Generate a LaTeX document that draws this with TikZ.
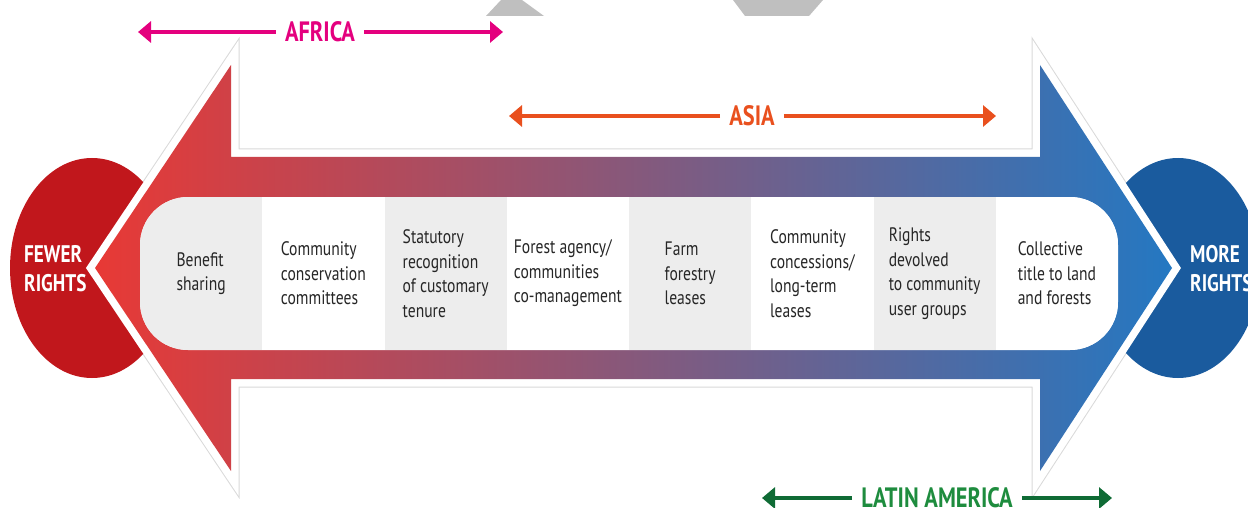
\documentclass[tikz,border=0pt]{standalone}
\usepackage{fontspec}
\setmainfont{PT Sans}
\newfontfamily\narrowsans{PT Sans}[FakeStretch=0.8]
\usetikzlibrary{arrows.meta,shapes.geometric}

\definecolor{fewerred}{RGB}{193,23,28}
\definecolor{moreblue}{RGB}{26,91,158}
\definecolor{africapink}{RGB}{228,0,126}
\definecolor{asiaorange}{RGB}{233,80,30}
\definecolor{latingreen}{RGB}{15,107,53}
\definecolor{latintext}{RGB}{30,140,62}
\definecolor{panelgray}{RGB}{237,237,237}
\definecolor{arrowred}{RGB}{232,57,53}
\definecolor{arrowmauve}{RGB}{158,94,122}
\definecolor{arrowblue}{RGB}{36,120,194}

%% outline of the double arrow
\newcommand{\arrowshape}{(95,268) -- (231,65) -- (231,157) -- (1040,157)
  -- (1040,65) -- (1172,268) -- (1040,471) -- (1040,379) -- (231,379)
  -- (231,471) -- cycle}

\begin{document}
\begin{tikzpicture}
[x=1pt,y=-1pt,
  sidedecorate/.style={shape=ellipse,minimum width=164pt,minimum height=220pt,inner sep=0pt},%
  sidetext/.style={anchor=west,align=left,inner sep=0pt,text=white,
    font=\narrowsans\bfseries\fontsize{24}{29}\selectfont},%
  coldecorate/.style={minimum width=122.25pt,minimum height=153pt,inner sep=0pt,
    align=left,text=black!85,font=\narrowsans\fontsize{19.5}{24.5}\selectfont},%
  regiondecorate/.style={inner xsep=9pt,inner ysep=0pt,
    font=\narrowsans\bfseries\fontsize{28}{30}\selectfont},%
  linedecorate/.style={line width=4pt,-{Triangle[length=13pt,width=21pt]}}]
\useasboundingbox (0,0) rectangle (1248,508);
%% grey shapes cut at the top
\fill[gray!50] (486,16) -- (501,0) -- (522,0) -- (544,16) -- cycle;
\fill[gray!50] (745,16) -- (733,0) -- (823,0) -- (809,16) -- cycle;
%% double arrow with its two ends
\draw[gray!30,line width=17pt] \arrowshape;
\node (fewer) at (92,268) [sidedecorate,fill=fewerred] {};
\node (more) at (1178,268) [sidedecorate,fill=moreblue] {};
\draw[white,line width=15pt] \arrowshape;
\shade[left color=arrowred,middle color=arrowmauve,right color=arrowblue] \arrowshape;
\node at (24,269) [sidetext] {FEWER\\RIGHTS};
\node at (1190,269) [sidetext] {MORE\\RIGHTS};
%% panel with the forms of tenure
\fill[white,rounded corners=48pt] (140,197) rectangle (1118,350);
\begin{scope}
\clip[rounded corners=48pt] (140,197) rectangle (1118,350);
\foreach \col/\tone/\words in {1/panelgray/{Benefit\\sharing},
  2/white/{Community\\conservation\\committees},
  3/panelgray/{Statutory\\recognition\\of customary\\tenure},
  4/white/{Forest agency/\\communities\\co-management},
  5/panelgray/{Farm\\forestry\\leases},
  6/white/{Community\\concessions/\\long-term\\leases},
  7/panelgray/{Rights\\devolved\\to community\\user groups},
  8/white/{Collective\\title to land\\and forests}} {
  \node (col\col) at ({140+122.25*(\col-0.5)},273.5) [coldecorate,fill=\tone] {\words};
}
\end{scope}
%% regions
\foreach \name/\hue/\ink/\label/\xl/\xm/\xr/\y in {
  africa/africapink/africapink/AFRICA/138/320/503/32,
  asia/asiaorange/asiaorange/ASIA/509/752/996/116,
  latin/latingreen/latintext/LATIN AMERICA/762/937/1112/498} {
  \node (\name) at (\xm,\y) [regiondecorate,text=\ink] {\label};
  \coordinate (\name west) at (\xl,\y);
  \coordinate (\name east) at (\xr,\y);
  \draw[linedecorate,\hue] (\name) -- (\name west);
  \draw[linedecorate,\hue] (\name) -- (\name east);
}
\end{tikzpicture}
\end{document}
